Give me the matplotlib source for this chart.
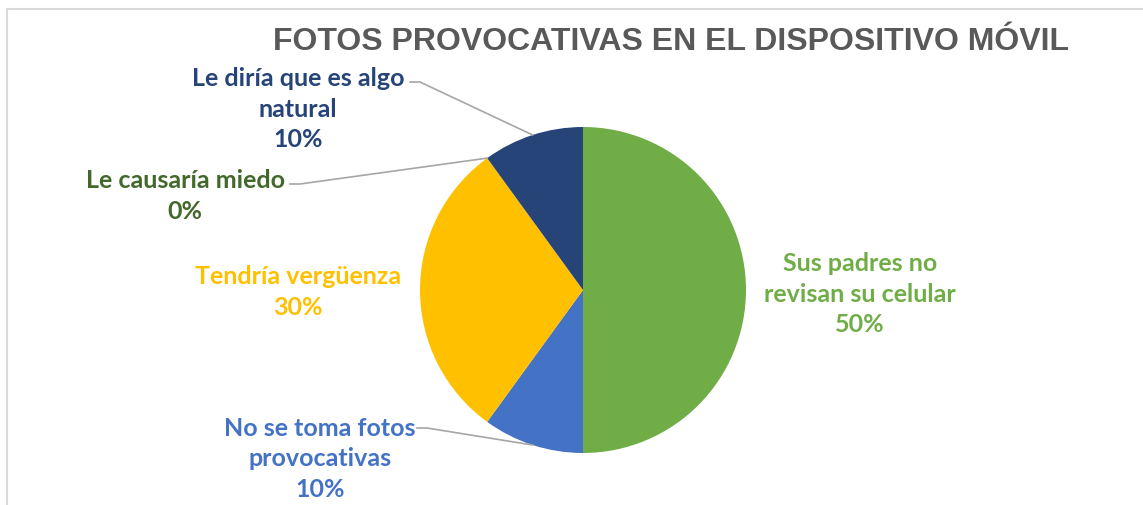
import numpy as np
import matplotlib
matplotlib.use("Agg")
import matplotlib.pyplot as plt

title = "FOTOS PROVOCATIVAS EN EL DISPOSITIVO MÓVIL"
categories = ["Sus padres no\nrevisan su celular", "No se toma fotos\nprovocativas",
              "Tendría vergüenza", "Le causaría miedo", "Le diría que es algo\nnatural"]
values = [50, 10, 30, 0, 10]
slice_colors = ["#70AD47", "#4472C4", "#FFC000", "#43682B", "#264478"]
label_colors = ["#70AD47", "#4472C4", "#FFC000", "#43682B", "#264478"]

W, H = 1143, 506
fig = plt.figure(figsize=(W / 100, H / 100), dpi=100)
ax = fig.add_axes([0, 0, 1, 1])

def Y(y):
    return H - y

# frame
ax.plot([7, 7, W + 5], [Y(H + 5), Y(10), Y(10)], color="#D9D9D9", lw=1.5, solid_capstyle="butt")

cx, cy, r = 583, Y(291), 163
wedges, _ = ax.pie(values, colors=slice_colors, startangle=90, counterclock=False,
                   center=(cx, cy), radius=r, frame=True,
                   wedgeprops=dict(linewidth=0))
ax.set_xlim(0, W)
ax.set_ylim(0, H)
ax.set_aspect("equal")
ax.axis("off")

ax.text(671, Y(42), title, ha="center", va="center", fontsize=23.0,
        fontweight="bold", color="#595959", family="Liberation Sans")

# label layout: (text center x, text center y, leader start x, leader start y or None)
layout = [
    (860, 294, None, None),
    (320, 459, 417, 429),
    (298, 292, None, None),
    (185, 196, 290, 185),
    (298, 109, 410, 83),
]
for i, (cat, v) in enumerate(zip(categories, values)):
    tx, ty, lx, ly = layout[i]
    ax.text(tx, Y(ty), f"{cat}\n{v}%", ha="center", va="center", fontsize=18,
            fontweight="bold", color=label_colors[i], family="Lato", linespacing=1.4)
    if lx is not None:
        w = wedges[i]
        th = np.deg2rad((w.theta1 + w.theta2) / 2)
        ex, ey = cx + r * np.cos(th), cy + r * np.sin(th)
        ax.plot([lx, lx + 10, ex], [Y(ly), Y(ly), ey], color="#A6A6A6", lw=1.2)

fig.savefig("out.png", dpi=100)
